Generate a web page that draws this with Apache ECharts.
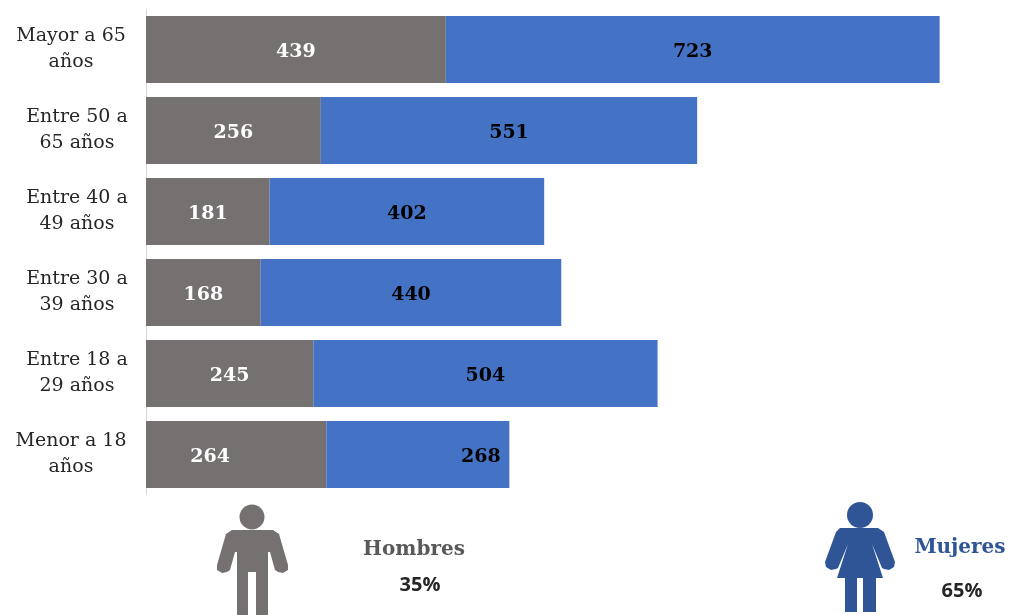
<!DOCTYPE html>
<html><head><meta charset="utf-8"><style>html,body{margin:0;padding:0;background:#fff}#c{width:1011px;height:615px;filter:blur(0.5px)}</style>
<script src="https://cdn.jsdelivr.net/npm/echarts@6/dist/echarts.min.js"></script></head>
<body><div id="c"></div><script>
const categories = ['Menor a 18\naños','Entre 18 a\n29 años','Entre 30 a\n39 años','Entre 40 a\n49 años','Entre 50 a\n65 años','Mayor a 65\naños'];
const hombres = [264,245,168,181,256,439];
const mujeres = [268,504,440,402,551,723];
const serif = '"DejaVu Serif","Liberation Serif",serif';
const sans = '"Open Sans","Noto Sans",sans-serif';
const gray = '#767171', blue = '#4472C4', dark = '#2F5597';
const manBody = [[232,530],[273,530],[279,534],[288,565],[288,570],[283,573],[278,572],[275,570],[270,552],[268,552],[268,615],[256,615],[256,572],[248,572],[248,615],[237,615],[237,552],[235,552],[230,570],[227,572],[222,573],[217,570],[217,565],[226,534]];
const womanBody = [[840,528],[878,528],[884,532],[895,562],[894,567],[889,570],[884,569],[882,568],[872,544],[883,578],[876,578],[876,612],[863,612],[863,578],[857,578],[857,612],[845,612],[845,578],[837,578],[848,544],[838,568],[836,569],[831,570],[826,567],[825,562],[836,532]];
const chart = echarts.init(document.getElementById('c'));
const withOffset = (arr, lastRowShift) => arr.map((v,i) => ({value:v,label:{offset:[i===0?lastRowShift:0,3]}}));
const catStyle = {color:'#262626',fontFamily:serif,fontSize:19,lineHeight:26};
chart.setOption({
  animation:false,
  grid:{left:146,right:70,top:9,bottom:120},
  xAxis:{type:'value',min:0,max:1164,show:false},
  yAxis:{type:'category',data:categories,
    axisLine:{lineStyle:{color:'#D9D9D9',width:1}},axisTick:{show:false},
    axisLabel:{...catStyle,margin:69,align:'center',
      formatter:(v)=>{const cls=/^(Mayor|Menor)/.test(v)?'w':'n';return v.split('\n').map(l=>'{'+cls+'|'+l+'}').join('\n');},
      rich:{n:{...catStyle},w:{...catStyle,padding:[0,12,0,0]}}}},
  series:[
    {name:'Hombres',type:'bar',stack:'t',data:withOffset(hombres,-26),barWidth:67,itemStyle:{color:gray},
     label:{show:true,position:'inside',color:'#fff',fontFamily:serif,fontWeight:'bold',fontSize:19}},
    {name:'Mujeres',type:'bar',stack:'t',data:withOffset(mujeres,63),barWidth:67,itemStyle:{color:blue},
     label:{show:true,position:'inside',color:'#000',fontFamily:serif,fontWeight:'bold',fontSize:19}}
  ],
  graphic:[
    {type:'circle',shape:{cx:252,cy:517,r:12.5},style:{fill:gray}},
    {type:'polygon',shape:{points:manBody},style:{fill:gray}},
    {type:'circle',shape:{cx:860,cy:515,r:13},style:{fill:dark}},
    {type:'polygon',shape:{points:womanBody},style:{fill:dark}},
    {type:'text',style:{x:414,y:550,text:'Hombres',align:'center',verticalAlign:'middle',fill:'#595959',font:'bold 20px '+serif}},
    {type:'text',style:{x:420,y:585,text:'35%',align:'center',verticalAlign:'middle',fill:'#262626',font:'bold 20px '+sans}},
    {type:'text',style:{x:960,y:548,text:'Mujeres',align:'center',verticalAlign:'middle',fill:dark,font:'bold 20px '+serif}},
    {type:'text',style:{x:962,y:591,text:'65%',align:'center',verticalAlign:'middle',fill:'#262626',font:'bold 20px '+sans}}
  ]
});
</script></body></html>
